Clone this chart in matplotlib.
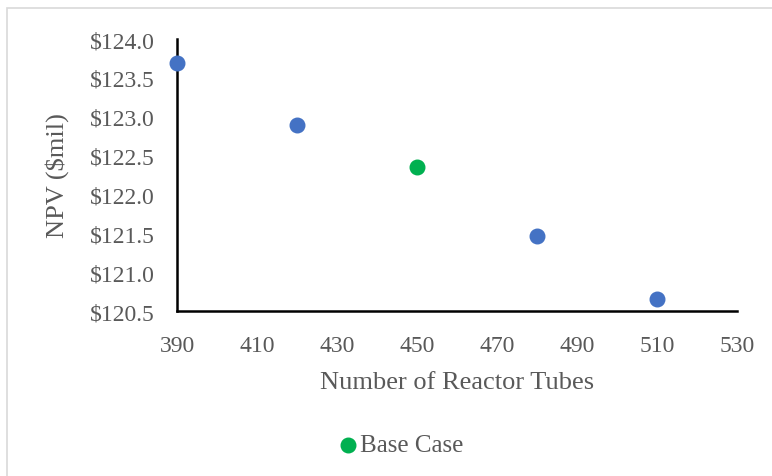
import matplotlib
matplotlib.use("Agg")
from matplotlib import pyplot as plt
from matplotlib.patches import Rectangle
from matplotlib.ticker import FuncFormatter

tubes = [390, 420, 480, 510]
npv = [123.69, 122.89, 121.46, 120.66]

base_tubes = [450]
base_npv = [122.35]

plt.rcParams["font.family"] = ["Liberation Serif", "DejaVu Serif"]

fig = plt.figure(figsize=(7.72, 4.77), dpi=100)
ax = fig.add_axes([0.2293, 0.3459, 0.7254, 0.5702])

# рамка вокруг графика
fig.patches.append(Rectangle((7 / 772, -0.1), 1.2, 1 - 9 / 477 + 0.1,
                             transform=fig.transFigure, fill=False,
                             edgecolor="#d9d9d9", linewidth=1.2))

ax.scatter(tubes, npv, s=110, color="#4472C4", zorder=3, clip_on=False)
ax.scatter(base_tubes, base_npv, s=110, color="#00B050", zorder=3,
           clip_on=False, label="Base Case")

ax.set_xlim(390, 530)
ax.set_ylim(120.5, 124.0)
ax.set_xticks(range(390, 531, 20))
ax.set_yticks([120.5 + 0.5 * i for i in range(8)])
ax.yaxis.set_major_formatter(FuncFormatter(lambda v, p: f"${v:.1f}"))

for side in ["top", "right"]:
    ax.spines[side].set_visible(False)
for side in ["left", "bottom"]:
    ax.spines[side].set_linewidth(1.8)
    ax.spines[side].set_color("black")

ax.tick_params(length=0, labelsize=17, colors="#595959")
ax.tick_params(axis="x", pad=17)
ax.tick_params(axis="y", pad=16)

ax.set_xlabel("Number of Reactor Tubes", fontsize=19, color="#595959", labelpad=11)
ax.set_ylabel("NPV ($mil)", fontsize=19, color="#595959", va="center")
ax.yaxis.set_label_coords(-0.2143, 0.5)

fig.legend(loc="center", bbox_to_anchor=(0.5095, 1 - 446 / 477), frameon=False,
           fontsize=18, labelcolor="#595959", handletextpad=-0.54,
           markerscale=1.0)

fig.savefig("out.png", dpi=100)
